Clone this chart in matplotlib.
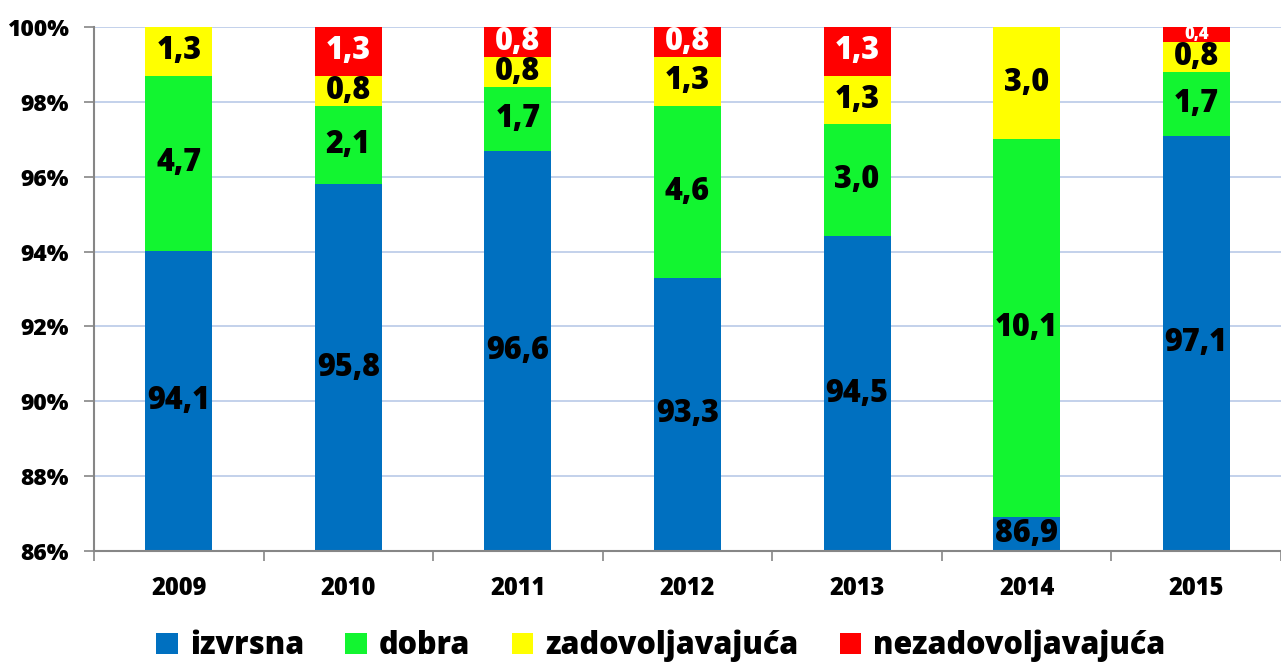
import matplotlib
matplotlib.use("Agg")
import matplotlib.pyplot as plt
import numpy as np
from matplotlib.patches import Patch

years = ["2009", "2010", "2011", "2012", "2013", "2014", "2015"]
izvrsna = [94.1, 95.8, 96.6, 93.3, 94.5, 86.9, 97.1]
dobra = [4.7, 2.1, 1.7, 4.6, 3.0, 10.1, 1.7]
zadovoljavajuca = [1.3, 0.8, 0.8, 1.3, 1.3, 3.0, 0.8]
nezadovoljavajuca = [0.0, 1.3, 0.8, 0.8, 1.3, 0.0, 0.4]
series_names = ["izvrsna", "dobra", "zadovoljavajuća", "nezadovoljavajuća"]
y_ticks = [86, 88, 90, 92, 94, 96, 98, 100]

colors = ["#0070C0", "#12F530", "#FFFF00", "#FF0000"]
txtcolors = ["black", "black", "black", "white"]

plt.rcParams['font.family'] = ['Open Sans', 'DejaVu Sans']
W = "heavy"
fig = plt.figure(figsize=(12.81, 6.63), dpi=100)
ax = fig.add_axes([94/1281, 1-551/663, 1-94/1281, (551-27)/663])

data = np.array([izvrsna, dobra, zadovoljavajuca, nezadovoljavajuca])
totals = data.sum(axis=0)
pct = data / totals * 100
x = np.arange(len(years))
ymin, ymax = 86, 100
bottom = np.zeros(len(years))
for i in range(4):
    ax.bar(x, pct[i], bottom=bottom, width=0.395, color=colors[i], zorder=2)
    for j in range(len(years)):
        if data[i, j] <= 0:
            continue
        lo = max(bottom[j], ymin)
        hi = min(bottom[j] + pct[i, j], ymax)
        yc = (lo + hi) / 2
        small = data[i, j] < 0.6
        ax.text(x[j], yc, f"{data[i, j]:.1f}".replace(".", ","),
                ha="center", va="center", color=txtcolors[i],
                fontsize=12 if small else 22, fontweight=W, zorder=3)
    bottom += pct[i]

ax.set_ylim(ymin, ymax)
ax.set_xlim(-0.5, 6.47)
ax.set_yticks(y_ticks)
ax.set_yticklabels([f"{t}%" for t in y_ticks], fontsize=16.5, fontweight=W)
ax.yaxis.grid(True, color="#B9C9E8", linewidth=1.2, zorder=0)
ax.set_axisbelow(True)
ax.set_xticks(x)
ax.set_xticklabels(years, fontsize=17, fontweight=W)
ax.tick_params(axis="x", length=0, pad=18)
ax.set_xticks(np.arange(-0.5, 7, 1), minor=True)
ax.tick_params(axis="x", which="minor", length=7, color="#868686", width=1.2)
ax.tick_params(axis="y", length=7, color="#868686", width=1.2, pad=11)
for s in ["top", "right"]:
    ax.spines[s].set_visible(False)
for s in ["left", "bottom"]:
    ax.spines[s].set_color("#868686")
    ax.spines[s].set_linewidth(1.5)

handles = [Patch(facecolor=c) for c in colors]
fig.legend(handles, series_names, loc="center", bbox_to_anchor=(0.516, 1-646/663),
           ncol=4, frameon=False, prop={"size": 22, "weight": W},
           handlelength=0.7, handleheight=0.7, handletextpad=0.4, columnspacing=1.35)

fig.savefig("out.png", dpi=100)
